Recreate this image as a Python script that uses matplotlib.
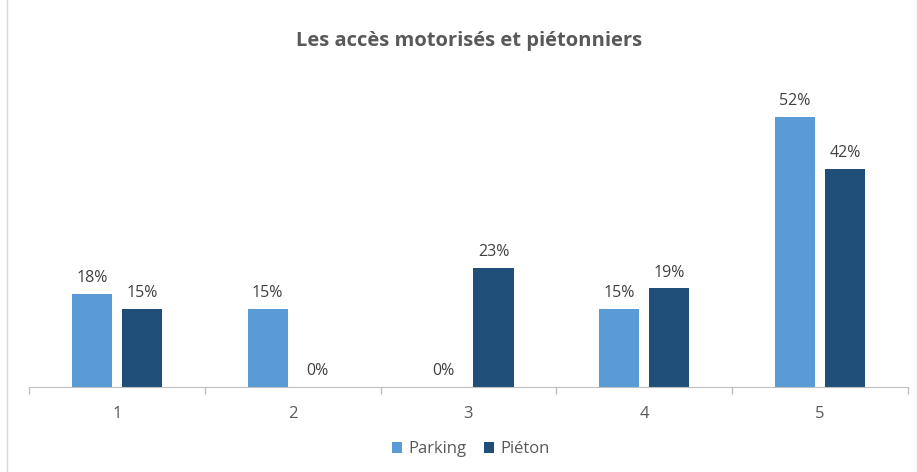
import matplotlib.pyplot as plt
import numpy as np
from matplotlib.patches import Rectangle

# data
categories = ['1', '2', '3', '4', '5']
parking = [18, 15, 0, 15, 52]
pieton = [15, 0, 23, 19, 42]

C_PARK = '#5B9BD5'
C_PIET = '#1F4E79'
GREY = '#595959'

plt.rcParams['font.family'] = ['Open Sans', 'DejaVu Sans']

fig = plt.figure(figsize=(9.18, 4.72), dpi=100)
ax = fig.add_axes([0.0316, 0.180, 0.9574, 0.66])

x = np.arange(len(categories))
width = 0.228
gap = 0.057
off = (width + gap) / 2
b1 = ax.bar(x - off, parking, width, color=C_PARK, label='Parking')
b2 = ax.bar(x + off, pieton, width, color=C_PIET, label='Piéton')

for bars, vals in [(b1, parking), (b2, pieton)]:
    for b, v in zip(bars, vals):
        ax.text(b.get_x() + b.get_width() / 2, v + 1.5, f'{v}%',
                ha='center', va='bottom', fontsize=11.5, color='#404040')

ax.set_xlim(-0.5, len(categories) - 0.5)
ax.set_ylim(0, 60)
ax.set_yticks([])
ax.set_xticks(x)
ax.set_xticklabels(categories, fontsize=12, color=GREY)
ax.set_xticks(np.arange(-0.5, len(categories)), minor=True)
ax.tick_params(axis='x', which='major', length=0, pad=14)
ax.tick_params(axis='x', which='minor', length=5, color='#BFBFBF', width=1)
for s in ['top', 'right', 'left']:
    ax.spines[s].set_visible(False)
ax.spines['bottom'].set_color('#BFBFBF')

fig.text(0.511, 0.913, 'Les accès motorisés et piétonniers', ha='center',
         va='center', fontsize=14.5, fontweight='bold', color=GREY)

fig.legend(handles=[b1, b2], labels=['Parking', 'Piéton'], loc='center',
           bbox_to_anchor=(0.513, 0.048), ncol=2, frameon=False, fontsize=12,
           handlelength=0.6, handleheight=0.6, handletextpad=0.4,
           columnspacing=1.0, labelcolor=GREY)

# light chart-area border
fig.patches.append(Rectangle((0.0076, -0.01), 0.991, 1.02, transform=fig.transFigure,
                             fill=False, edgecolor='#D9D9D9', linewidth=1))

fig.savefig('out.png', dpi=100)
